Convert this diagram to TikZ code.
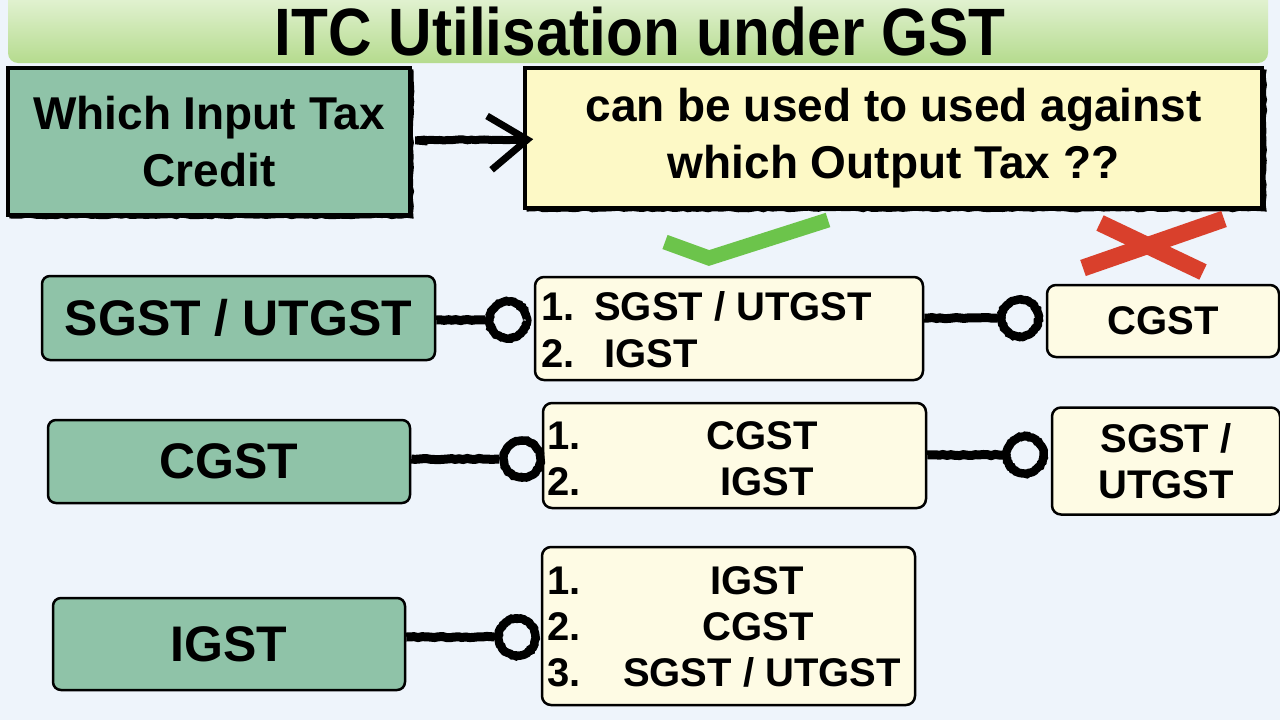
\documentclass[tikz,border=0pt]{standalone}
\usepackage{fontspec}
\setmainfont{Liberation Sans}
\usetikzlibrary{arrows.meta,decorations.pathmorphing}
\definecolor{bgc}{HTML}{EEF4FB}
\definecolor{teal}{HTML}{8FC3A8}
\definecolor{qyellow}{HTML}{FDF9C6}
\definecolor{cream}{HTML}{FEFBE4}
\definecolor{tgtop}{HTML}{EEF8E4}
\definecolor{tgbot}{HTML}{B5DB8E}
\definecolor{okgreen}{HTML}{6CC44B}
\definecolor{nored}{HTML}{D9402C}
\tikzset{
  bigbox/.style={draw=black, line width=3.5pt, inner sep=0pt, align=center,
     font=\bfseries\fontsize{46}{57}\selectfont},
  lbox/.style={draw=black, fill=teal, line width=2.5pt, rounded corners=8pt,
     inner sep=0pt, align=center, font=\bfseries\fontsize{50}{58}\selectfont},
  cbox/.style={draw=black, fill=cream, line width=2.5pt, rounded corners=9pt,
     inner sep=0pt, align=center, font=\bfseries\fontsize{40}{46}\selectfont},
  ring/.style={circle, draw=black, line width=8.5pt, minimum size=37pt, inner sep=0pt,
     decorate, decoration={random steps, segment length=2pt, amplitude=0.6pt}},
  wire/.style={draw=black, line width=9pt,
     decorate, decoration={random steps, segment length=4pt, amplitude=0.6pt}},
  itemtxt/.style={font=\bfseries\fontsize{40}{46}\selectfont, inner sep=0pt},
  sketch/.style={draw=black, line width=3pt,
     decorate, decoration={random steps, segment length=5pt, amplitude=0.8pt}}
}
\begin{document}
\begin{tikzpicture}[x=1pt,y=-1pt]
\useasboundingbox (0,0) rectangle (1280,720);
\fill[bgc] (0,0) rectangle (1280,720);

% title banner
\shade[top color=tgtop, bottom color=tgbot, rounded corners=10pt] (8,-20) rectangle (1268,63);
\node[font=\bfseries\fontsize{67}{67}\selectfont, inner sep=0pt] (title) at (640,32) {\scalebox{0.9}[1]{ITC Utilisation under GST}};

% top boxes
\draw[sketch] (11,71) rectangle (412,217);
\node[bigbox, fill=teal, minimum width=402pt, minimum height=147pt] (q) at (209,141.5) {Which Input Tax\\Credit};
\draw[sketch] (528,71) rectangle (1265,210);
\node[bigbox, fill=qyellow, minimum width=737pt, minimum height=140pt] (a) at (893.5,138) {can be used to used against\\which Output Tax ??};

% arrow
\draw[wire, line width=8pt, shorten >=-10pt, shorten <=16pt,
      -{Straight Barb[length=38pt,width=54pt,line width=7pt]}] (q.east |- 0,140) -- (a.west |- 0,140);

% check and cross
\draw[okgreen, line width=15pt] (665,242) -- (709,258) -- (828,220);
\draw[nored, line width=17pt] (1083,268) -- (1224,219);
\draw[nored, line width=17pt] (1100,223) -- (1203,272);

% row 1
\node[lbox, minimum width=393pt, minimum height=84pt] (L1) at (238.5,318) {SGST / UTGST};
\node[cbox, minimum width=388pt, minimum height=103pt] (M1) at (729,328.5) {};
\node[cbox, minimum width=232pt, minimum height=72pt] (R1) at (1163,321) {CGST};
\node[ring] (c1) at (508,320) {};
\node[ring] (c2) at (1020,318) {};
\draw[wire] (L1.east |- c1) -- (c1.west);
\draw[wire] (M1.east |- c2) -- (c2.west);
\node[itemtxt, anchor=base west] (m1a) at (541,320) {1.};
\node[itemtxt, anchor=base west] (m1b) at (594,320) {SGST / UTGST};
\node[itemtxt, anchor=base west] (m1c) at (541,367) {2.};
\node[itemtxt, anchor=base west] (m1d) at (604,367) {IGST};

% row 2
\node[lbox, minimum width=362pt, minimum height=83pt] (L2) at (229,461.5) {CGST};
\node[cbox, minimum width=383pt, minimum height=105pt] (M2) at (734.5,455.5) {};
\node[cbox, minimum width=228pt, minimum height=107pt] (R2) at (1166,461) {SGST /\\UTGST};
\node[ring] (c3) at (522,459) {};
\node[ring] (c4) at (1025,455) {};
\draw[wire] (L2.east |- c3) -- (c3.west);
\draw[wire] (M2.east |- c4) -- (c4.west);
\node[itemtxt, anchor=base west] (m2a) at (547,449) {1.};
\node[itemtxt, anchor=base] (m2b) at (762,449) {CGST};
\node[itemtxt, anchor=base west] (m2c) at (547,495) {2.};
\node[itemtxt, anchor=base] (m2d) at (767,495) {IGST};

% row 3
\node[lbox, minimum width=352pt, minimum height=92pt] (L3) at (229,644) {IGST};
\node[cbox, minimum width=373pt, minimum height=158pt] (M3) at (728.5,626) {};
\node[ring] (c5) at (517,637) {};
\draw[wire] (L3.east |- c5) -- (c5.west);
\node[itemtxt, anchor=base west] (m3a) at (547,594) {1.};
\node[itemtxt, anchor=base] (m3b) at (757,594) {IGST};
\node[itemtxt, anchor=base west] (m3c) at (547,640) {2.};
\node[itemtxt, anchor=base] (m3d) at (758,640) {CGST};
\node[itemtxt, anchor=base west] (m3e) at (547,686) {3.};
\node[itemtxt, anchor=base] (m3f) at (762,686) {SGST / UTGST};
\end{tikzpicture}
\end{document}
